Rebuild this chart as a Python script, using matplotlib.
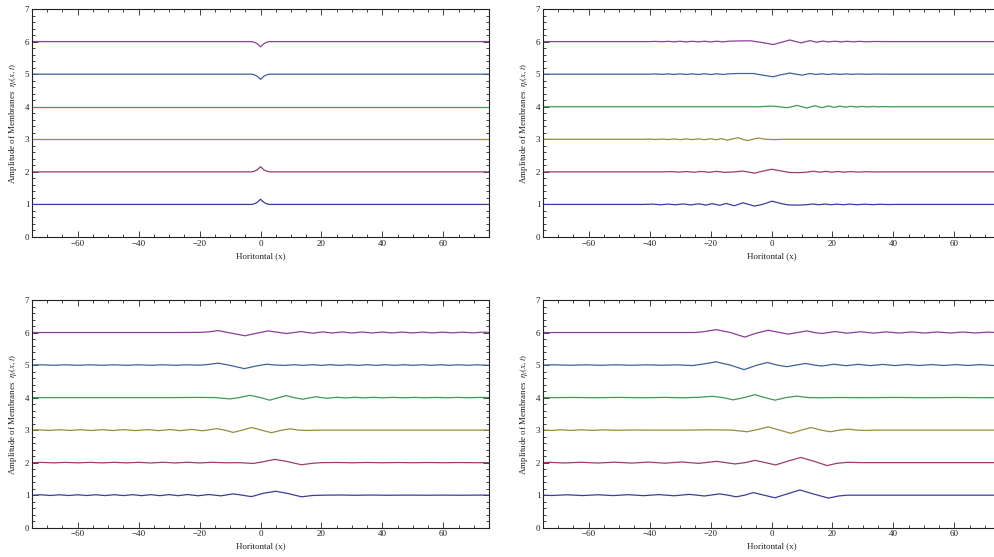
import matplotlib
matplotlib.use("Agg")
import matplotlib.pyplot as plt
from matplotlib.ticker import MultipleLocator

plt.rcParams['font.family'] = ['Liberation Serif', 'DejaVu Serif']
plt.rcParams['mathtext.fontset'] = 'stix'

# membrane curves, (x, eta) pairs
# panel a (top left)
a1 = [(-80, 1), (-3, 1), (-2, 1.02), (-1, 1.07), (0, 1.16), (1, 1.07), (2, 1.02), (3, 1), (80, 1)]
a2 = [(-80, 2), (-3, 2), (-2, 2.02), (-1, 2.07), (0, 2.16), (1, 2.07), (2, 2.02), (3, 2), (80, 2)]
a3 = [(-80, 3), (80, 3)]
a4 = [(-80, 4), (80, 4)]
a5 = [(-80, 5), (-3, 5), (-2, 4.98), (-1, 4.93), (0, 4.84), (1, 4.93), (2, 4.98), (3, 5), (80, 5)]
a6 = [(-80, 6), (-3, 6), (-2, 5.98), (-1, 5.93), (0, 5.84), (1, 5.93), (2, 5.98), (3, 6), (80, 6)]

# panel b (top right)
b1 = [(-80, 1), (-42, 1), (-39, 1.01), (-36.5, 0.99), (-34, 1.01), (-31.5, 0.99), (-29, 1.015),
      (-26.5, 0.985), (-24, 1.02), (-21.5, 0.98), (-19.5, 1.025), (-17, 0.975), (-14.9, 1.03),
      (-12.2, 0.96), (-9.4, 1.05), (-7.5, 1.0), (-5.6, 0.95), (-3, 1.0), (0.2, 1.10), (3, 1.03),
      (5.5, 0.985), (9, 0.98), (11.5, 0.99), (13.5, 1.015), (15.5, 0.99), (17.5, 1.012), (19.5, 0.99),
      (21.5, 1.01), (23.5, 0.99), (25.5, 1.01), (28, 0.992), (30.5, 1.008), (33, 0.994), (35.5, 1.005),
      (38, 0.997), (40, 1), (80, 1)]
b2 = [(-80, 2), (-36, 2), (-33, 2.008), (-30.5, 1.992), (-28, 2.01), (-25.5, 1.99), (-23, 2.012),
      (-20.5, 1.988), (-18, 2.015), (-15.5, 1.985), (-12, 2.0), (-9.5, 2.025), (-5.6, 1.96), (-3, 2.02),
      (0, 2.08), (3, 2.03), (6, 1.98), (9, 1.975), (11.5, 1.99), (13.7, 2.02), (15.8, 1.99), (17.8, 2.015),
      (19.8, 1.99), (21.8, 2.012), (23.8, 1.992), (26, 2.008), (28.5, 1.994), (31, 2.005), (34, 1.997),
      (37, 2.0), (80, 2)]
b3 = [(-80, 3), (-42, 3), (-40, 3.006), (-38, 2.994), (-36, 3.008), (-34, 2.992), (-32, 3.01),
      (-30, 2.99), (-28, 3.01), (-26, 2.99), (-24, 3.012), (-22, 2.988), (-20, 3.015), (-18.2, 2.985),
      (-16.5, 3.02), (-14.5, 2.975), (-11, 3.05), (-9.5, 3.0), (-7.9, 2.96), (-6.2, 3.0), (-4.4, 3.04),
      (-2, 3.0), (1, 2.99), (4, 3.0), (80, 3)]
b4 = [(-80, 4), (-4, 4), (0, 4.02), (2.5, 4.0), (5, 3.97), (6.7, 4.0), (8.3, 4.04), (10, 4.0),
      (11.5, 3.96), (13, 4.0), (14.3, 4.03), (15.4, 4.0), (16.5, 3.97), (18.7, 4.025), (20.5, 3.98),
      (22.4, 4.018), (24.2, 3.985), (26, 4.013), (27.8, 3.99), (29.6, 4.01), (31.4, 3.993), (33.2, 4.007),
      (35, 3.996), (37, 4.003), (39, 4), (80, 4)]
b5 = [(-80, 5), (-40, 5), (-38, 5.006), (-36, 4.994), (-34, 5.008), (-32, 4.992), (-30, 5.01),
      (-28, 4.99), (-26, 5.01), (-24, 4.99), (-22, 5.012), (-20, 4.988), (-18, 5.012), (-16, 4.99),
      (-14, 5.01), (-11, 5.02), (-6, 5.02), (-3, 4.97), (0.5, 4.92), (3, 4.98), (6, 5.035), (8, 5.0),
      (10, 4.97), (12.6, 5.02), (14.5, 4.99), (16.5, 5.012), (18.5, 4.99), (20.5, 5.01), (22.5, 4.992),
      (24.5, 5.008), (26.5, 4.994), (28.5, 5.006), (31, 4.996), (34, 5.003), (37, 5), (80, 5)]
b6 = [(-80, 6), (-40, 6), (-38, 6.006), (-36, 5.994), (-34, 6.008), (-32, 5.992), (-30, 6.01),
      (-28, 5.99), (-26, 6.01), (-24, 5.99), (-22, 6.012), (-20, 5.988), (-18, 6.012), (-16, 5.99),
      (-14, 6.012), (-11, 6.02), (-7, 6.025), (-3, 5.97), (0.5, 5.91), (3, 5.97), (6, 6.05), (8, 6.0),
      (9.7, 5.96), (12.6, 6.03), (14.8, 5.98), (16.8, 6.015), (18.8, 5.99), (20.8, 6.012), (22.8, 5.99),
      (24.8, 6.01), (26.8, 5.992), (28.8, 6.007), (31, 5.995), (34, 6.003), (37, 6), (80, 6)]

# panel c (bottom left)
c1 = [(-80, 1), (-75, 1.0), (-72, 1.012), (-69, 0.99), (-66, 1.012), (-63, 0.99), (-60, 1.012),
      (-57, 0.99), (-54, 1.013), (-51, 0.988), (-48, 1.014), (-45, 0.988), (-42, 1.015), (-39, 0.986),
      (-36, 1.016), (-33, 0.985), (-30, 1.018), (-27, 0.984), (-24, 1.02), (-20.5, 0.982), (-17, 1.02),
      (-13, 0.98), (-9, 1.04), (-6, 1.0), (-3, 0.955), (1, 1.06), (5, 1.12), (9, 1.05), (13.5, 0.95),
      (17, 0.99), (21, 1.0), (26, 1.005), (31, 0.997), (36, 1.004), (42, 0.997), (48, 1.003),
      (54, 0.998), (60, 1.002), (66, 0.998), (72, 1.002), (80, 1)]
c2 = [(-80, 2), (-75, 2), (-72, 2.008), (-68, 1.993), (-64, 2.008), (-60, 1.993), (-56, 2.009),
      (-52, 1.992), (-48, 2.01), (-44, 1.992), (-40, 2.01), (-36, 1.99), (-32, 2.012), (-28, 1.99),
      (-24, 2.012), (-20, 1.99), (-16, 2.01), (-11, 1.995), (-7, 2.0), (-2.4, 1.975), (1, 2.03),
      (4.7, 2.10), (8.5, 2.04), (13.4, 1.935), (17, 1.98), (20, 2.0), (25, 2.005), (30, 1.996),
      (35, 2.005), (40, 1.996), (45, 2.004), (50, 1.997), (55, 2.004), (60, 1.997), (65, 2.003),
      (70, 1.998), (80, 2)]
c3 = [(-80, 3), (-75, 3.0), (-73, 3.01), (-69.5, 2.99), (-66, 3.012), (-62.5, 2.99), (-59, 3.013),
      (-55.5, 2.988), (-52, 3.014), (-48.5, 2.987), (-45, 3.015), (-41, 2.986), (-37, 3.016),
      (-33.5, 2.985), (-29.7, 3.018), (-26.4, 2.984), (-22.6, 3.022), (-19, 2.98), (-14.4, 3.045),
      (-11.7, 3.0), (-9, 2.93), (-6, 3.0), (-3, 3.08), (0.3, 3.0), (3.6, 2.92), (6.6, 2.99), (9.6, 3.04),
      (12.5, 3.0), (15, 2.99), (20, 3.0), (80, 3)]
c4 = [(-80, 4), (-30, 4), (-20, 4.005), (-15, 4.0), (-10, 3.96), (-7, 4.0), (-3.5, 4.07), (0, 4.0),
      (3, 3.92), (6, 4.0), (8.5, 4.06), (11, 4.0), (13.9, 3.95), (16, 3.99), (18.3, 4.025), (20, 4.0),
      (22, 3.98), (25, 4.01), (28, 3.99), (31, 4.01), (34, 3.992), (37, 4.008), (40, 3.993),
      (43.5, 4.007), (47, 3.994), (50.5, 4.006), (54, 3.995), (57.5, 4.005), (61, 3.995), (64.5, 4.005),
      (68, 3.996), (71.5, 4.004), (80, 4)]
c5 = [(-80, 5), (-75, 5.0), (-72, 5.008), (-68, 4.993), (-64, 5.008), (-60, 4.993), (-56, 5.008),
      (-52, 4.993), (-48, 5.008), (-44, 4.993), (-40, 5.008), (-36, 4.993), (-32, 5.008), (-28, 4.993),
      (-24, 5.008), (-20, 4.995), (-17, 5.02), (-13.9, 5.06), (-9.5, 4.98), (-5.3, 4.89), (-1.5, 4.97),
      (2, 5.025), (5, 5.0), (8, 4.99), (11, 5.01), (14, 4.99), (17, 5.012), (20, 4.99), (23, 5.012),
      (26, 4.99), (29, 5.01), (32, 4.99), (35, 5.01), (38, 4.99), (41, 5.01), (44, 4.992), (47, 5.01),
      (50, 4.992), (53, 5.009), (56, 4.992), (59, 5.009), (62, 4.993), (65, 5.008), (68, 4.993),
      (71, 5.008), (74, 4.995), (80, 5)]
c6 = [(-80, 6), (-30, 6), (-20, 6.005), (-17, 6.02), (-13.9, 6.06), (-9.5, 5.98), (-5.1, 5.90),
      (-1.2, 5.98), (2.5, 6.05), (5.5, 6.01), (8.5, 5.97), (11, 6.0), (13.4, 6.03), (15.3, 6.0),
      (17.2, 5.98), (20.4, 6.02), (23.5, 5.985), (26.8, 6.018), (30, 5.985), (33.3, 6.016), (36.6, 5.986),
      (39.9, 6.015), (43.2, 5.987), (46.5, 6.014), (49.8, 5.988), (53.1, 6.013), (56.4, 5.989),
      (59.7, 6.012), (63, 5.99), (66.3, 6.011), (69.6, 5.99), (72.9, 6.01), (80, 6)]

# panel d (bottom right)
d1 = [(-80, 1), (-75, 1.0), (-72, 0.99), (-67, 1.012), (-62, 0.988), (-57, 1.013), (-52, 0.987),
      (-47, 1.015), (-42, 0.985), (-37, 1.018), (-32, 0.982), (-27, 1.025), (-22, 0.975), (-17.1, 1.04),
      (-14.3, 1.0), (-11.6, 0.95), (-8.8, 1.0), (-6, 1.08), (-2.5, 1.0), (1.1, 0.92), (5.2, 1.04),
      (9.3, 1.16), (14, 1.03), (18.7, 0.91), (22, 0.975), (25, 1.0), (80, 1)]
d2 = [(-80, 2), (-75, 2.0), (-73, 2.01), (-68, 1.99), (-62.5, 2.012), (-57, 1.988), (-51.5, 2.014),
      (-46, 1.986), (-40.5, 2.016), (-35, 1.984), (-29.5, 2.02), (-24, 1.978), (-18, 2.04), (-15, 2.0),
      (-12, 1.96), (-8.7, 2.0), (-5.4, 2.07), (-2, 2.0), (1.3, 1.93), (5.5, 2.05), (9.6, 2.16),
      (14, 2.04), (18.2, 1.91), (21.5, 1.98), (25, 2.01), (30, 2.0), (80, 2)]
d3 = [(-80, 3), (-75, 3.0), (-72, 2.99), (-69, 3.012), (-66, 2.99), (-62.5, 3.01), (-59, 2.992),
      (-55, 3.008), (-51, 2.995), (-46, 3.004), (-40, 3.0), (-28, 3.0), (-20, 3.01), (-13, 3.0),
      (-8, 2.95), (-4.5, 3.02), (-1.1, 3.10), (2.7, 3.0), (6.3, 2.90), (9.8, 3.0), (13.0, 3.08),
      (16.2, 3.0), (19.3, 2.95), (22.3, 3.0), (25.3, 3.03), (28, 3.0), (30.5, 2.99), (34, 3.0), (80, 3)]
d4 = [(-80, 4), (-70, 4.0), (-65, 4.004), (-58, 3.996), (-50, 4.005), (-42, 3.995), (-35, 4.006),
      (-29, 3.993), (-24, 4.01), (-19.3, 4.04), (-16, 4.0), (-12.6, 3.93), (-9, 4.0), (-5.5, 4.09),
      (-2.2, 4.0), (1.1, 3.92), (4.7, 4.0), (8.3, 4.045), (12, 4.0), (16, 3.995), (22, 4.003),
      (30, 3.997), (40, 4.004), (50, 3.997), (60, 4.003), (70, 3.997), (80, 4)]
d5 = [(-80, 5), (-75, 5.0), (-71, 5.008), (-66, 4.993), (-61, 5.008), (-56, 4.993), (-51, 5.008),
      (-46, 4.993), (-41, 5.008), (-36, 4.993), (-31, 5.006), (-26, 4.985), (-22.5, 5.03), (-18.2, 5.10),
      (-13.6, 5.0), (-9, 4.86), (-5, 4.99), (-1.3, 5.08), (1.8, 5.0), (5, 4.95), (8.1, 5.0), (11.2, 5.05),
      (14, 5.0), (16.5, 4.97), (20.5, 5.025), (24.5, 4.98), (28.5, 5.022), (32.5, 4.982), (36.5, 5.02),
      (40.5, 4.984), (44.5, 5.018), (48.5, 4.985), (52.5, 5.016), (56.5, 4.986), (60.5, 5.015),
      (64.5, 4.987), (68.5, 5.014), (72.5, 4.988), (80, 5)]
d6 = [(-80, 6), (-30, 6), (-25, 6.0), (-22, 6.03), (-18.2, 6.09), (-13.5, 6.0), (-8.8, 5.86),
      (-5, 5.98), (-1.1, 6.07), (2.2, 6.01), (5.5, 5.95), (8.5, 6.0), (11.6, 6.05), (14, 6.0),
      (16.5, 5.97), (20.9, 6.03), (24.8, 5.98), (29.2, 6.025), (33.4, 5.982), (37.6, 6.02), (41.8, 5.984),
      (46, 6.018), (50.2, 5.985), (54.4, 6.016), (58.6, 5.986), (62.8, 6.015), (67, 5.987), (71.2, 6.014),
      (75.4, 5.988), (80, 6)]

panels = [[a1, a2, a3, a4, a5, a6],
          [b1, b2, b3, b4, b5, b6],
          [c1, c2, c3, c4, c5, c6],
          [d1, d2, d3, d4, d5, d6]]

# mathematica-style default colours
colors = [(0.24, 0.24, 0.6), (0.6, 0.24, 0.44), (0.6, 0.55, 0.24),
          (0.24, 0.6, 0.34), (0.24, 0.39, 0.6), (0.55, 0.24, 0.6)]

x_ticks = [-60, -40, -20, 0, 20, 40, 60]
y_ticks = [0, 1, 2, 3, 4, 5, 6, 7]

fig = plt.figure(figsize=(9.94, 5.57), dpi=100)
rects = [[0.0322, 0.5745, 0.4598, 0.4093],
         [0.5463, 0.5745, 0.4598, 0.4093],
         [0.0322, 0.0526, 0.4598, 0.4088],
         [0.5463, 0.0526, 0.4598, 0.4088]]
ylabels = [r"Amplitude of Membranes  $\eta_i(x,t)$"] * 4

for k in range(4):
    ax = fig.add_axes(rects[k])
    for curve, col in zip(panels[k], colors):
        xs = [p[0] for p in curve]
        ys = [p[1] for p in curve]
        ax.plot(xs, ys, color=col, lw=0.9)
    ax.set_xlim(-75, 75)
    ax.set_ylim(0, 7)
    ax.set_xticks(x_ticks)
    ax.set_yticks(y_ticks)
    ax.xaxis.set_minor_locator(MultipleLocator(5))
    ax.yaxis.set_minor_locator(MultipleLocator(0.2))
    ax.tick_params(which='both', direction='in', top=True, right=True,
                   labelsize=6.5, width=0.6, colors='#222222', pad=2)
    ax.tick_params(which='major', length=4)
    ax.tick_params(which='minor', length=2)
    for s in ax.spines.values():
        s.set_linewidth(0.8)
        s.set_color('#222222')
    ax.set_xlabel("Horitontal (x)", fontsize=6.5, labelpad=3, color='#222222')
    ax.set_ylabel(ylabels[k], fontsize=6.5, labelpad=4, color='#222222')

fig.savefig("out.png", dpi=100)
